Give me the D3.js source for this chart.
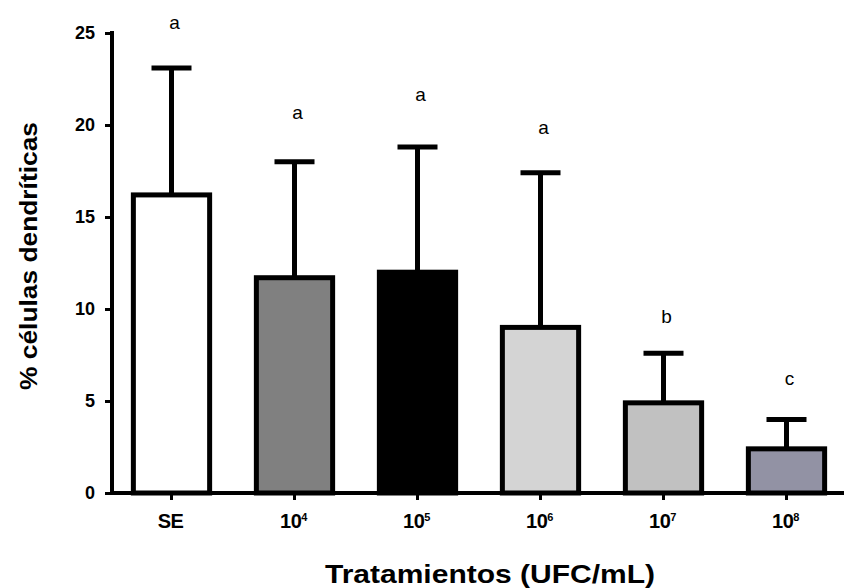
<!DOCTYPE html>
<html>
<head>
<meta charset="utf-8">
<script src="https://cdn.jsdelivr.net/npm/d3@7"></script>
<style>
  body { margin: 0; background: #fff; }
  svg { display: block; }
</style>
</head>
<body>
<div id="chart"></div>
<script>
const treatments = ["SE", "10^4", "10^5", "10^6", "10^7", "10^8"];
const means = [16.2, 11.7, 12.0, 9.0, 4.9, 2.4];
const errors = [6.9, 6.3, 6.8, 8.4, 2.7, 1.6];
const letters = ["a", "a", "a", "a", "b", "c"];
const letterValues = [25.2, 20.3, 21.3, 19.5, 9.25, 5.85];
const fills = ["#ffffff", "#808080", "#000000", "#d4d4d4", "#c1c1c1", "#9292a4"];
const yTicks = [0, 5, 10, 15, 20, 25];

const width = 844,
    height = 588;
const font = "Liberation Sans, Arial, sans-serif";

const svg = d3.select("#chart")
    .append("svg")
    .attr("width", width)
    .attr("height", height);

const x = d3.scaleBand()
    .domain(treatments)
    .range([110, 848])
    .paddingInner(0.38)
    .paddingOuter(0.19);

const y = d3.scaleLinear()
    .domain([0, 25])
    .range([493, 33]);

// error bars (upper only), drawn under the bars
const err = svg.append("g");
treatments.forEach((t, i) => {
    const cx = x(t) + x.bandwidth() / 2;
    err.append("line")
        .attr("x1", cx).attr("x2", cx)
        .attr("y1", y(means[i])).attr("y2", y(means[i] + errors[i]))
        .attr("stroke", "#000").attr("stroke-width", 5);
    err.append("line")
        .attr("x1", cx - 20).attr("x2", cx + 20)
        .attr("y1", y(means[i] + errors[i])).attr("y2", y(means[i] + errors[i]))
        .attr("stroke", "#000").attr("stroke-width", 5);
});

svg.append("g")
    .selectAll("rect")
    .data(treatments)
    .join("rect")
    .attr("x", (d) => x(d))
    .attr("y", (d, i) => y(means[i]))
    .attr("width", x.bandwidth())
    .attr("height", (d, i) => y(0) - y(means[i]))
    .attr("fill", (d, i) => fills[i])
    .attr("stroke", "#000")
    .attr("stroke-width", 5);

// significance letters
svg.append("g")
    .selectAll("text")
    .data(treatments)
    .join("text")
    .attr("x", (d) => x(d) + x.bandwidth() / 2 + 3)
    .attr("y", (d, i) => y(letterValues[i]))
    .attr("text-anchor", "middle")
    .style("font-family", font)
    .style("font-size", "19px")
    .text((d, i) => letters[i]);

// y axis
const yAxis = svg.append("g")
    .attr("transform", "translate(112,0)")
    .call(d3.axisLeft(y).tickValues(yTicks).tickSize(7).tickPadding(10));
yAxis.select(".domain").attr("stroke-width", 4).attr("d", `M0,${y(25) - 2}V${y(0) + 2}`);
yAxis.selectAll(".tick line").attr("stroke-width", 3);
yAxis.selectAll(".tick text")
    .style("font-family", font)
    .style("font-weight", "bold")
    .style("font-size", "18px")
    .attr("fill", "#000");

// x axis
const xAxis = svg.append("g")
    .attr("transform", `translate(0,${y(0)})`)
    .call(d3.axisBottom(x).tickSize(7).tickFormat(""));
xAxis.select(".domain").attr("stroke-width", 4).attr("d", "M110,0H844");
xAxis.selectAll(".tick line").attr("stroke-width", 3);

const xLabels = svg.append("g")
    .selectAll("text")
    .data(treatments)
    .join("text")
    .attr("x", (d) => x(d) + x.bandwidth() / 2 - 1)
    .attr("y", 528)
    .attr("text-anchor", "middle")
    .style("font-family", font)
    .style("font-weight", "bold")
    .style("font-size", "20px")
    .style("letter-spacing", "-0.5px");
xLabels.each(function (d) {
    const el = d3.select(this);
    const parts = d.split("^");
    el.append("tspan").text(parts[0]);
    if (parts[1]) {
        el.append("tspan")
            .attr("dy", -7)
            .style("font-size", "11px")
            .text(parts[1]);
    }
});

// axis titles
svg.append("text")
    .attr("transform", "translate(37,256) rotate(-90)")
    .attr("text-anchor", "middle")
    .attr("textLength", 268)
    .attr("lengthAdjust", "spacingAndGlyphs")
    .style("font-family", font)
    .style("font-weight", "bold")
    .style("font-size", "23px")
    .text("% células dendríticas");

svg.append("text")
    .attr("x", 490)
    .attr("y", 583)
    .attr("text-anchor", "middle")
    .attr("textLength", 330)
    .attr("lengthAdjust", "spacingAndGlyphs")
    .style("font-family", font)
    .style("font-weight", "bold")
    .style("font-size", "25px")
    .text("Tratamientos (UFC/mL)");
</script>
</body>
</html>
